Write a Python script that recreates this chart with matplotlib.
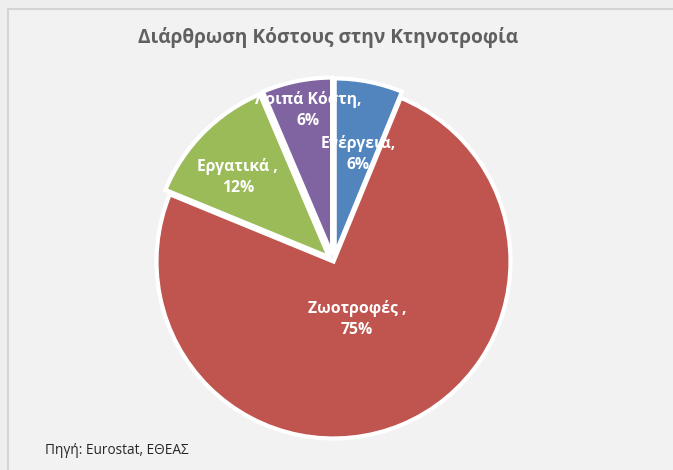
import matplotlib
matplotlib.use("Agg")
import matplotlib.pyplot as plt
from matplotlib.patches import Rectangle

plt.rcParams['font.family'] = ['Open Sans', 'Noto Sans', 'DejaVu Sans']

# Data
categories = ["Ενέργεια", "Ζωοτροφές ", "Εργατικά ", "Λοιπά Κόστη"]
values = [6.2, 75.0, 12.4, 6.4]
colors = ["#5284be", "#c0544f", "#9bbb59", "#8064a2"]
title = "Διάρθρωση Κόστους στην Κτηνοτροφία"
source = "Πηγή: Eurostat, ΕΘΕΑΣ"

W, H = 673, 470
fig = plt.figure(figsize=(W / 100, H / 100), dpi=100)
fig.patch.set_facecolor("#eeeeee")

# chart frame
fig.patches.append(Rectangle((8 / W, -0.1), 1.2, (H - 9) / H + 0.1,
                             transform=fig.transFigure, facecolor="#f2f2f2",
                             edgecolor="#d4d4d4", linewidth=1.5, zorder=-10))

R = 177
cx, cy = 333.5, H - 261.5
half = 1.2 * R
ax = fig.add_axes([(cx - half) / W, (cy - half) / H, 2 * half / W, 2 * half / H])
ax.set_zorder(5)

explode = [0.035, 0.0, 0.035, 0.04]
total = sum(values)
wedges, texts = ax.pie(values, colors=colors, startangle=90, counterclock=False,
                       explode=explode, radius=1.0,
                       labels=[f"{c},\n{v / total * 100:.0f}%" for c, v in zip(categories, values)],
                       labeldistance=0.5,
                       wedgeprops=dict(edgecolor="white", linewidth=3),
                       textprops=dict(color="white", fontsize=11.3, fontweight="bold",
                                      ha="center", va="center", linespacing=1.45))
ax.set_xlim(-1.2, 1.2)
ax.set_ylim(-1.2, 1.2)
ax.axis("off")

label_pos = [(0.138, 0.607), (0.133, -0.325), (-0.54, 0.477), (-0.144, 0.856)]
for t, p in zip(texts, label_pos):
    t.set_position(p)
    t.set_ha("center")
    t.set_va("center")

fig.text(328 / W, 1 - 37 / H, title, ha="center", va="center",
         fontsize=13.8, fontweight="bold", color="#606060")
fig.text(45 / W, 1 - 450 / H, source, ha="left", va="center",
         fontsize=9.8, color="#262626")

fig.savefig("out.png", dpi=100, facecolor=fig.get_facecolor())
